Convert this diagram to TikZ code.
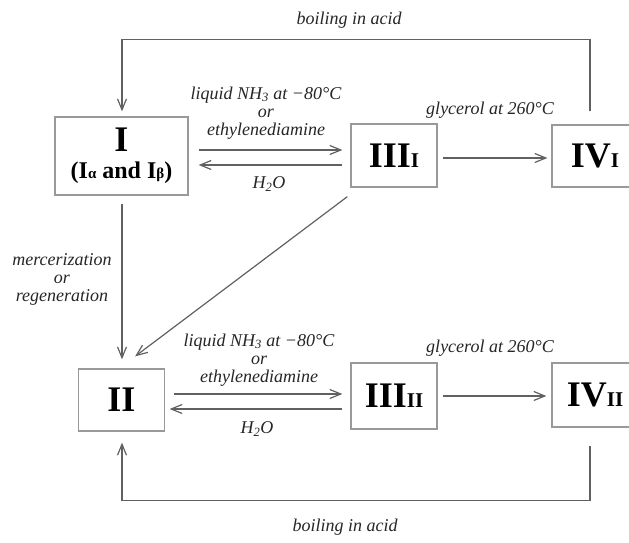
\documentclass[tikz,border=0pt]{standalone}
\usepackage{fontspec}
\setmainfont{Liberation Serif}
\usetikzlibrary{calc,arrows.meta}
\newcommand{\smtxt}[2]{{\fontsize{#1}{#1}\selectfont #2}}
\tikzset{
  cbox/.style={draw=black!40, line width=1.3pt, inner sep=0pt, align=center, font=\bfseries},
  lab/.style={font=\fontsize{18}{18}\selectfont\itshape, align=center, text=black!85, inner sep=0pt},
  ln/.style={draw=black!62, line width=1.2pt},
  arr/.style={ln, -{Straight Barb[length=11pt,width=9pt,line width=1.2pt]}}
}
\begin{document}
\begin{tikzpicture}[x=1pt,y=1pt]
\useasboundingbox (0,0) rectangle (629,543);
\clip (0,0) rectangle (629,543);
\fill[white] (0,0) rectangle (629,543);

% boxes
\node[cbox, minimum width=133pt, minimum height=78pt] (I) at (121.5,387)
  {\smtxt{36}{I}\\[9pt]\smtxt{24}{(I\smtxt{15}{α} and I\smtxt{15}{β})}};
\node[cbox, minimum width=86pt, minimum height=63pt] (IIIa) at (394,387.5)
  {\smtxt{36}{III\smtxt{21}{I}}};
\node[cbox, minimum width=86pt, minimum height=62pt] (IVa) at (595,387)
  {\smtxt{36}{IV\smtxt{21}{I}}};
\node[cbox, minimum width=86pt, minimum height=62pt] (II) at (121.5,143)
  {\smtxt{36}{II}};
\node[cbox, minimum width=86pt, minimum height=66pt] (IIIb) at (394,147)
  {\smtxt{36}{III\smtxt{21}{II}}};
\node[cbox, minimum width=86pt, minimum height=64pt] (IVb) at (595,148)
  {\smtxt{36}{IV\smtxt{21}{II}}};

% upper row connectors
\draw[arr] ($(I.east)+(10,6)$) -- ($(IIIa.west)+(-8,5.5)$);
\draw[arr] ($(IIIa.west)+(-8,-9.5)$) -- ($(I.east)+(10,-9)$);
\draw[arr] ($(IIIa.east)+(5,-2.5)$) -- ($(IVa.west)+(-4,-2)$);
\draw[arr] ($(IVa.north)+(-5,13)$) |- ($(I.north)+(0.5,77)$) -- ($(I.north)+(0.5,5)$);

% vertical and diagonal
\draw[arr] ($(I.south)+(0.5,-8)$) -- ($(II.north)+(0.5,9)$);
\draw[arr] ($(IIIa.south west)+(-3,-9)$) -- ($(II.north east)+(-30,12)$);

% lower row connectors
\draw[arr] ($(II.east)+(8.5,6)$) -- ($(IIIb.west)+(-8,2)$);
\draw[arr] ($(IIIb.west)+(-8,-13)$) -- ($(II.east)+(4.5,-9)$);
\draw[arr] ($(IIIb.east)+(5,0)$) -- ($(IVb.west)+(-5,-1)$);
\draw[arr] ($(IVb.south)+(-5,-18)$) |- ($(II.south)+(0.5,-69)$) -- ($(II.south)+(0.5,-11)$);

% labels
\node[lab] (tb) at (349,523) {boiling in acid};
\node[lab] (bb) at (345,16) {boiling in acid};
\node[lab] (u1) at (266,430) {liquid NH\textsubscript{3} at −80°C\\or\\ethylenediamine};
\node[lab] (uh) at (269,359) {H\textsubscript{2}O};
\node[lab] (ug) at (490,433) {glycerol at 260°C};
\node[lab] (mr) at (62,264) {mercerization\\or\\regeneration};
\node[lab] (l1) at (259,183) {liquid NH\textsubscript{3} at −80°C\\or\\ethylenediamine};
\node[lab] (lh) at (257,114) {H\textsubscript{2}O};
\node[lab] (lg) at (490,195) {glycerol at 260°C};
\end{tikzpicture}
\end{document}
